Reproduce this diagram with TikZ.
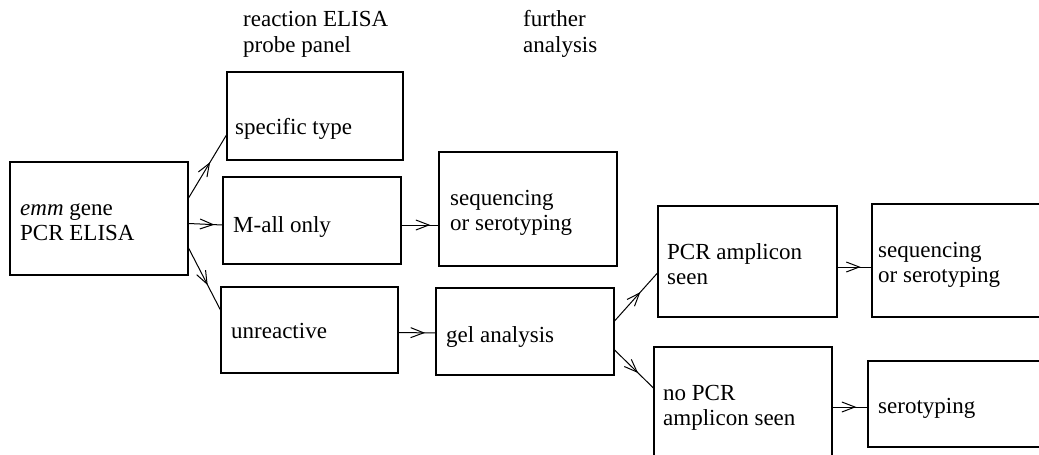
\documentclass[tikz,border=0pt]{standalone}
\usepackage{fontspec}
\setmainfont{Liberation Serif}
\usetikzlibrary{decorations.markings}
\newcommand{\fsz}{\fontsize{23}{25}\selectfont}
\newcommand{\lns}[1]{\begin{tabular}[t]{@{}l@{}}#1\end{tabular}}
\begin{document}
\begin{tikzpicture}[x=1pt,y=-1pt,
  box/.style={draw, line width=1.1pt, inner sep=0pt},
  txt/.style={anchor=base west, inner sep=0pt, font=\fsz},
  flow/.style={line width=1pt, postaction={decorate},
    decoration={markings, mark=at position #1 with {\draw[line width=1pt, line join=miter] (-13pt,5pt) -- (0pt,0pt) -- (-13pt,-5pt);}}},
  flow/.default=0.68]
\useasboundingbox (0,0) rectangle (1039,455);
\fill[white] (0,0) rectangle (1039,455);
% boxes
\node[box, minimum width=178pt, minimum height=113pt] (emm)   at (99,218.5) {};
\node[box, minimum width=176pt, minimum height=88pt]  (spec)  at (315,116) {};
\node[box, minimum width=178pt, minimum height=87pt]  (mall)  at (312,220.5) {};
\node[box, minimum width=177pt, minimum height=86pt]  (unre)  at (309.5,330) {};
\node[box, minimum width=178pt, minimum height=114pt] (seqa)  at (528,209) {};
\node[box, minimum width=178pt, minimum height=87pt]  (gel)   at (525,331.5) {};
\node[box, minimum width=179pt, minimum height=111pt] (pcr)   at (747.5,261.5) {};
\node[box, minimum width=173pt, minimum height=113pt] (seqb)  at (958.5,260.5) {};
\node[box, minimum width=178pt, minimum height=113pt] (nopcr) at (743,403.5) {};
\node[box, minimum width=177pt, minimum height=86pt]  (sero)  at (956.5,404) {};
% texts
\node[txt] (h1) at (243,27) {\lns{reaction ELISA\\probe panel}};
\node[txt] (h2) at (523,27) {\lns{further\\analysis}};
\node[txt] (temm) at (20,215) {\lns{\textit{emm} gene\\PCR ELISA}};
\node[txt] (tspec) at (235,134) {specific type};
\node[txt] (tmall) at (233,232) {M-all only};
\node[txt] (tunre) at (231,338) {unreactive};
\node[txt] (tseqa) at (450,205) {\lns{sequencing\\or serotyping}};
\node[txt] (tgel) at (446,342) {gel analysis};
\node[txt] (tpcr) at (667,259) {\lns{PCR amplicon\\seen}};
\node[txt] (tseqb) at (878,257) {\lns{sequencing\\or serotyping}};
\node[txt] (tnopcr) at (663,400) {\lns{no PCR\\amplicon seen}};
\node[txt] (tsero) at (878,413) {serotyping};
% connectors
\draw[flow=0.55] ([yshift=20.5pt]emm.east) -- ([yshift=-19pt]spec.west);
\draw[flow=0.72] ([yshift=-5pt]emm.east) -- ([yshift=-4.5pt]mall.west);
\draw[flow=0.58] ([yshift=-29.5pt]emm.east) -- ([yshift=20pt]unre.west);
\draw[flow=0.74] ([yshift=-4.5pt]mall.east) -- ([yshift=-16pt]seqa.west);
\draw[flow=0.68] ([yshift=-2.5pt]unre.east) -- ([yshift=-1.5pt]gel.west);
\draw[flow=0.58] ([yshift=10.5pt]gel.east) -- ([yshift=-11.5pt]pcr.west);
\draw[flow=0.58] ([yshift=-18.5pt]gel.east) -- ([yshift=15.5pt]nopcr.west);
\draw[flow=0.64] ([yshift=-5.5pt]pcr.east) -- ([yshift=-6.5pt]seqb.west);
\draw[flow=0.64] ([yshift=-3.5pt]nopcr.east) -- ([yshift=-3pt]sero.west);
\end{tikzpicture}
\end{document}
